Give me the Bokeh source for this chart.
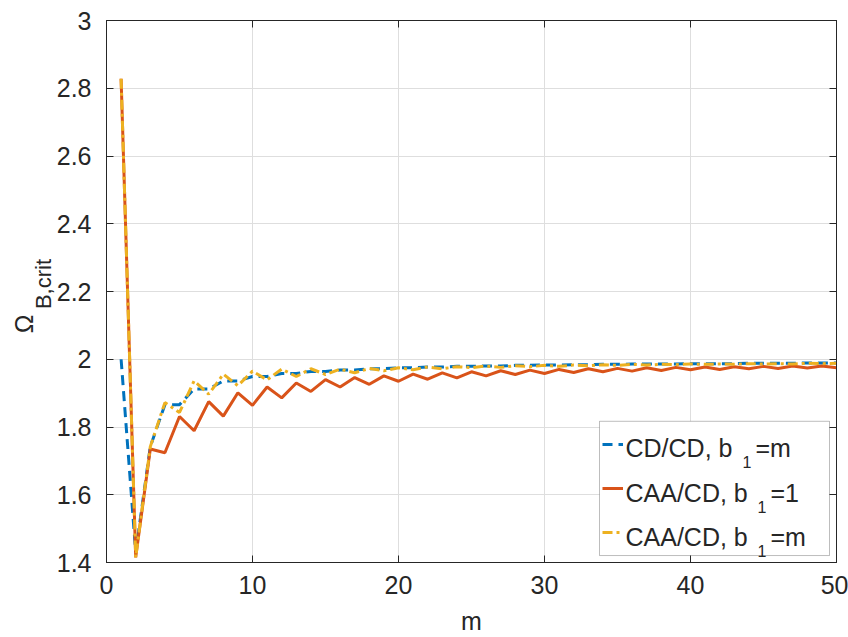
import math
from bokeh.plotting import figure
from bokeh.models import (Range1d, LinearAxis, FixedTicker, CustomJSTickFormatter,
                          Legend, LegendItem, Label, Grid, BoxAnnotation)
from bokeh.embed import file_html
from bokeh.resources import INLINE

# ---------------- data ----------------
m = list(range(1, 51))

cd_cd_b1_m = [2.000, 1.430, 1.742, 1.866, 1.866, 1.912, 1.912, 1.936, 1.936, 1.949,
              1.949, 1.958, 1.958, 1.964, 1.964, 1.968, 1.968, 1.972, 1.972, 1.975,
              1.975, 1.977, 1.977, 1.979, 1.979, 1.980, 1.980, 1.982, 1.982, 1.983,
              1.983, 1.984, 1.984, 1.985, 1.985, 1.986, 1.986, 1.986, 1.986, 1.987,
              1.987, 1.987, 1.987, 1.988, 1.988, 1.988, 1.988, 1.989, 1.989, 1.989]

caa_cd_b1_1 = [2.828, 1.415, 1.735, 1.724, 1.831, 1.789, 1.875, 1.832, 1.901, 1.864,
               1.918, 1.886, 1.930, 1.905, 1.940, 1.918, 1.946, 1.926, 1.951, 1.935,
               1.956, 1.941, 1.960, 1.945, 1.963, 1.951, 1.966, 1.955, 1.968, 1.958,
               1.970, 1.961, 1.972, 1.963, 1.973, 1.965, 1.975, 1.967, 1.976, 1.969,
               1.977, 1.970, 1.978, 1.972, 1.979, 1.973, 1.980, 1.974, 1.980, 1.975]

caa_cd_b1_m = [2.828, 1.415, 1.742, 1.872, 1.843, 1.936, 1.897, 1.956, 1.922, 1.965,
               1.939, 1.971, 1.949, 1.972, 1.955, 1.971, 1.960, 1.973, 1.966, 1.975,
               1.969, 1.977, 1.972, 1.978, 1.975, 1.980, 1.976, 1.981, 1.978, 1.982,
               1.979, 1.983, 1.981, 1.984, 1.982, 1.985, 1.983, 1.985, 1.984, 1.986,
               1.985, 1.986, 1.985, 1.987, 1.986, 1.987, 1.986, 1.988, 1.987, 1.988]

x_ticks = [0, 10, 20, 30, 40, 50]
y_ticks = [1.4, 1.6, 1.8, 2.0, 2.2, 2.4, 2.6, 2.8, 3.0]

series_names = ["CD/CD, b", "CAA/CD, b", "CAA/CD, b"]
series_sub = ["1", "1", "1"]
series_tail = ["=m", "=1", "=m"]
x_label = "m"
y_label_main = "\u03a9"
y_label_sub = "B,crit"

# ---------------- layout ----------------
W, H = 848, 637
BL, BT = 106, 20
FW, FH = 730, 545
BR, BB = W - BL - FW, H - BT - FH
X0, X1 = 0, 50
Y0, Y1 = 1.4, 3.0

def dx(px):
    return X0 + (px - BL) / FW * (X1 - X0)

def dy(py):
    return Y1 - (py - BT) / FH * (Y1 - Y0)

FONT = "Liberation Sans"
TXT = "#262626"
BLUE, RED, YEL = "#0072BD", "#D95319", "#EDB120"

p = figure(width=W, height=H, output_backend="svg", toolbar_location=None,
           x_range=Range1d(X0, X1), y_range=Range1d(Y0, Y1),
           x_axis_type=None, y_axis_type=None,
           min_border_left=BL, min_border_right=BR, min_border_top=BT,
           min_border_bottom=BB)
p.background_fill_color = "white"
p.border_fill_color = "white"
p.outline_line_color = TXT

xt = FixedTicker(ticks=x_ticks)
yt = FixedTicker(ticks=y_ticks)
yfmt = CustomJSTickFormatter(code="return Number(tick.toFixed(1)).toString();")
blank = CustomJSTickFormatter(code="return '';")

bottom = LinearAxis(ticker=xt, axis_label=x_label)
left = LinearAxis(ticker=yt, formatter=yfmt)
top = LinearAxis(ticker=xt, formatter=blank)
right = LinearAxis(ticker=yt, formatter=blank)
p.add_layout(bottom, "below")
p.add_layout(left, "left")
p.add_layout(top, "above")
p.add_layout(right, "right")

for ax in [bottom, left, top, right]:
    ax.axis_line_color = TXT
    ax.axis_line_width = 1
    ax.major_tick_line_color = TXT
    ax.major_tick_in = 7
    ax.major_tick_out = 0
    ax.minor_tick_line_color = None
    ax.major_label_text_font = FONT
    ax.major_label_text_font_size = "25px"
    ax.major_label_text_color = TXT

bottom.major_label_standoff = 13
bottom.axis_label_standoff = 10
bottom.axis_label_text_font = FONT
bottom.axis_label_text_font_size = "25px"
bottom.axis_label_text_font_style = "normal"
bottom.axis_label_text_color = TXT
left.major_label_standoff = 15
for ax in [top, right]:
    ax.major_label_text_font_size = "1px"
    ax.major_label_standoff = 0

# y-axis title: "Omega" with subscript "B,crit", each a single rotated label
def title_axis(text, centre_px, size, standoff):
    return LinearAxis(ticker=FixedTicker(ticks=[dy(centre_px)]),
                      formatter=CustomJSTickFormatter(args=dict(t=text), code="return t;"),
                      axis_line_color=None, major_tick_line_color=None,
                      minor_tick_line_color=None, major_label_orientation="parallel",
                      major_label_standoff=standoff, major_label_text_font=FONT,
                      major_label_text_font_size=size, major_label_text_color=TXT)

p.add_layout(title_axis(y_label_sub, 285, "22px", -9), "left")
p.add_layout(title_axis(y_label_main, 325, "25px", -16), "left")

p.add_layout(Grid(dimension=0, ticker=xt, grid_line_color="#dedede", grid_line_width=1))
p.add_layout(Grid(dimension=1, ticker=yt, grid_line_color="#dedede", grid_line_width=1))

r_blue = p.line(m, cd_cd_b1_m, line_color=BLUE, line_width=3, line_dash="10 6")
r_red = p.line(m, caa_cd_b1_1, line_color=RED, line_width=3)
r_yel = p.line(m, caa_cd_b1_m, line_color=YEL, line_width=3, line_dash="10 4 3 4")

# legend box (white, framed)
box_l, box_r, box_t, box_b = 599, 829, 423, 558
p.add_layout(BoxAnnotation(left=dx(box_l), right=dx(box_r), top=dy(box_t), bottom=dy(box_b),
                           fill_color="white", fill_alpha=1, line_color=TXT,
                           line_width=1, level="underlay"))

# legend swatches
GW, GH, SP, STAND, LW, PAD, MARGIN = 21, 34, 10, 0, 200, 0, 13
legend = Legend(items=[LegendItem(label=" ", renderers=[r_blue]),
                       LegendItem(label=" ", renderers=[r_red]),
                       LegendItem(label=" ", renderers=[r_yel])],
                location="bottom_right", margin=MARGIN, padding=PAD,
                glyph_width=GW, glyph_height=GH, label_height=GH, spacing=SP,
                label_standoff=STAND, label_width=LW,
                label_text_font=FONT, label_text_font_size="25px",
                border_line_color=None, background_fill_alpha=0)
p.add_layout(legend)

# legend texts
text_x = 625
baselines = [450, 495, 539]
sub_x = [742, 757, 757]
tail_x = [755, 770, 770]
for i in range(3):
    p.add_layout(Label(x=dx(text_x), y=dy(baselines[i]), text=series_names[i],
                       text_font=FONT, text_font_size="25px", text_color=TXT,
                       text_align="left", text_baseline="alphabetic"))
    p.add_layout(Label(x=dx(sub_x[i]), y=dy(baselines[i] + 14), text=series_sub[i],
                       text_font=FONT, text_font_size="16px", text_color=TXT,
                       text_align="left", text_baseline="alphabetic"))
    p.add_layout(Label(x=dx(tail_x[i]), y=dy(baselines[i]), text=series_tail[i],
                       text_font=FONT, text_font_size="25px", text_color=TXT,
                       text_align="left", text_baseline="alphabetic"))

open("out.html", "w").write(file_html(p, INLINE))
